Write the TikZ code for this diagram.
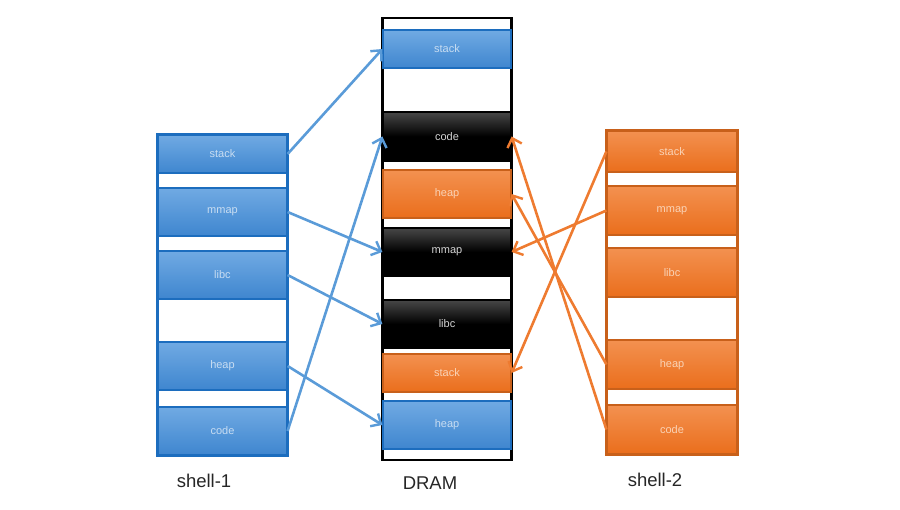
\documentclass[tikz,border=0pt]{standalone}
\usepackage{fontspec}
\setmainfont{Liberation Sans}
\usetikzlibrary{arrows.meta, shadows}

\definecolor{segbluetop}{HTML}{70AAE3}
\definecolor{segbluebot}{HTML}{3F86CF}
\definecolor{segblueline}{HTML}{1C6DBE}
\definecolor{segbluetext}{HTML}{C8DDF2}
\definecolor{segorangetop}{HTML}{F39150}
\definecolor{segorangebot}{HTML}{EA6E1C}
\definecolor{segorangeline}{HTML}{C8601A}
\definecolor{segorangetext}{HTML}{FAD3B6}
\definecolor{segblacktext}{HTML}{D4D4D4}
\definecolor{mapblue}{HTML}{5A9BD8}
\definecolor{maporange}{HTML}{EE7B30}

\begin{document}
\begin{tikzpicture}[x=1pt,y=-1pt,
  seg/.style={shape=rectangle, inner sep=0pt, line width=1.2pt, font=\fontsize{11}{13}\selectfont,
    drop shadow={opacity=0.25, shadow xshift=0pt, shadow yshift=-1.5pt}},
  blueseg/.style={seg, draw=segblueline, top color=segbluetop, bottom color=segbluebot, text=segbluetext},
  orangeseg/.style={seg, draw=segorangeline, top color=segorangetop, bottom color=segorangebot, text=segorangetext},
  blackseg/.style={seg, draw=black, top color=black!72, bottom color=black, middle color=black, text=segblacktext},
  bluemap/.style={draw=mapblue, line width=2.6pt, -{Straight Barb[length=8pt,width=15pt,line width=2.4pt]}},
  orangemap/.style={draw=maporange, line width=2.6pt, -{Straight Barb[length=8pt,width=15pt,line width=2.4pt]}},
  caption/.style={font=\fontsize{18.5}{22}\selectfont, text=black!85}]
\useasboundingbox (0,0) rectangle (900,510);

% shell-1
\foreach \name/\y/\h in {stack/154/38, mmap/212/48, libc/275/48, heap/366/48, code/431/48}
	\node[blueseg, minimum width=129pt, minimum height=\h pt] (s1 \name) at (222.5,\y) {\name};
\draw[draw=segblueline, line width=2.5pt] (s1 stack.north west) rectangle (s1 code.south east);

% DRAM
\draw[black, line width=2.5pt] (382.5,18) rectangle (511.5,460);
\foreach \id/\lbl/\y/\h/\kind in {stack1/stack/49/38/blueseg, code/code/136.5/49/blackseg,
	heap2/heap/194/48/orangeseg, mmap/mmap/252/48/blackseg, libc/libc/324/48/blackseg,
	stack2/stack/373/38/orangeseg, heap1/heap/425/48/blueseg}
	\node[\kind, minimum width=128pt, minimum height=\h pt] (dram \id) at (447,\y) {\lbl};

% shell-2
\foreach \name/\y/\h in {stack/151.5/41, mmap/210.5/49, libc/272.5/49, heap/364.5/49, code/429.5/49}
	\node[orangeseg, minimum width=130pt, minimum height=\h pt] (s2 \name) at (672,\y) {\name};
\draw[draw=segorangeline, line width=2.5pt] (s2 stack.north west) rectangle (s2 code.south east);

% mappings
\foreach \from/\to in {stack/stack1, mmap/mmap, libc/libc, heap/heap1, code/code}
	\draw[bluemap] (s1 \from.east) -- (dram \to.west);
\foreach \from/\to in {stack/stack2, mmap/mmap, heap/heap2, code/code}
	\draw[orangemap] (s2 \from.west) -- (dram \to.east);

\node[caption] (shell1 label) at (204,481) {shell-1};
\node[caption] (dram label) at (430,483) {DRAM};
\node[caption] (shell2 label) at (655,480) {shell-2};
\end{tikzpicture}
\end{document}
